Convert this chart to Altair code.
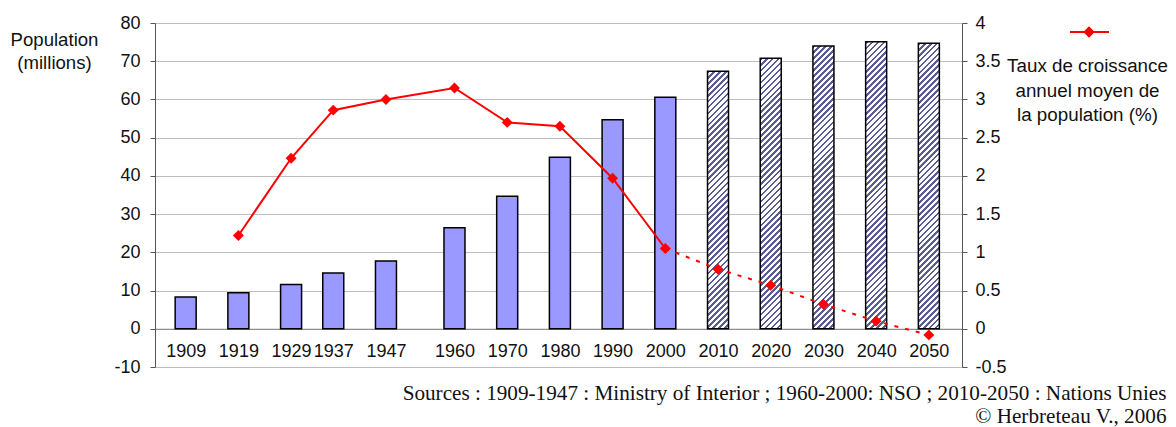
import altair as alt
import pandas as pd

# ---------------- data ----------------
years = [1909, 1919, 1929, 1937, 1947, 1960, 1970, 1980, 1990, 2000,
         2010, 2020, 2030, 2040, 2050]
population = [8.3, 9.4, 11.6, 14.6, 17.7, 26.4, 34.7, 44.9, 54.7, 60.6,
              67.4, 70.8, 74.0, 75.1, 74.7]
growth_years_obs = [1919, 1929, 1937, 1947, 1960, 1970, 1980, 1990, 2000]
growth_obs = [1.22, 2.23, 2.86, 3.00, 3.15, 2.70, 2.65, 1.97, 1.05]
growth_years_proj = [2000, 2010, 2020, 2030, 2040, 2050]
growth_proj = [1.05, 0.78, 0.57, 0.32, 0.10, -0.08]
left_ticks = [-10, 0, 10, 20, 30, 40, 50, 60, 70, 80]
right_ticks = [-0.5, 0, 0.5, 1, 1.5, 2, 2.5, 3, 3.5, 4]
legend_label = ["Taux de croissance", "annuel moyen de", "la population (%)"]
source_lines = [
    "Sources : 1909-1947 : Ministry of Interior ; 1960-2000: NSO ; 2010-2050 : Nations Unies",
    "\u00a9 Herbreteau V., 2006",
]
left_title = ["Population", "(millions)"]

# ---------------- layout ----------------
W, H = 807, 344
X_DOMAIN = [1904.13, 2055.34]
Y_LEFT = [-10, 80]
Y_RIGHT = [-0.5, 4]
BAR_W = 21
FONT = "Liberation Sans"
RED = "#FF0000"

n_obs = 10
pop_df = pd.DataFrame({"annee": years, "population": population})
obs_df = pop_df.iloc[:n_obs]
g_obs_df = pd.DataFrame({"annee": growth_years_obs, "croissance": growth_obs})
g_proj_df = pd.DataFrame({"annee": growth_years_proj, "croissance": growth_proj})
g_all_df = pd.concat([g_obs_df, g_proj_df.iloc[1:]], ignore_index=True)
one = pd.DataFrame({"k": [0]})

x_enc = alt.X(
    "annee:Q",
    scale=alt.Scale(domain=X_DOMAIN, nice=False, zero=False),
    axis=alt.Axis(
        values=years, format="d", grid=False, ticks=False, tickSize=0,
        labelFontSize=18, labelFont=FONT, labelColor="#111",
        labelPadding=23, labelBaseline="middle", labelFlush=False,
        labelOverlap=False, offset=-H * 10 / 90, domainColor="#808080",
        domainWidth=1, title=None,
    ),
)

y_left = alt.Y(
    "population:Q",
    scale=alt.Scale(domain=Y_LEFT, nice=False, zero=False),
    axis=alt.Axis(
        values=left_ticks, labelExpr="toString(datum.value)", grid=True,
        gridColor="#BFBFBF", gridWidth=1, domainColor="#555555",
        tickColor="#555555", tickSize=5, labelPadding=10, labelFontSize=18,
        labelFont=FONT, labelColor="#111", title=left_title, titleAngle=0,
        titleX=-101, titleY=22, titleAlign="center", titleBaseline="alphabetic",
        titleFontWeight="normal", titleFontSize=18.6, titleFont=FONT,
        titleColor="#111", titleLineHeight=23.5,
    ),
)

y_right = alt.Y(
    "croissance:Q",
    scale=alt.Scale(domain=Y_RIGHT, nice=False, zero=False),
    axis=alt.Axis(
        orient="right", values=right_ticks, labelExpr="toString(datum.value)",
        grid=False, domainColor="#555555", tickColor="#555555", tickSize=5,
        labelPadding=8, labelFontSize=18, labelFont=FONT, labelColor="#111",
        title=None,
    ),
)


def hatch(w, h, period=6.0, frac=0.45, ink="#5B5B95"):
    """Diagonal '/' stripes as a linear gradient in bounding-box units."""
    n = int((w + h) / period) + 1
    c = (w + h) / (w * w + h * h)
    stops = []
    for k in range(n):
        a, b, e = k / n, (k + frac) / n, (k + 1) / n
        stops += [
            {"offset": round(a, 5), "color": ink},
            {"offset": round(b, 5), "color": ink},
            {"offset": round(b, 5), "color": "#FFFFFF"},
            {"offset": round(e, 5), "color": "#FFFFFF"},
        ]
    return {"gradient": "linear", "x1": 0, "y1": 0,
            "x2": round(c * w, 5), "y2": round(c * h, 5), "stops": stops}


bars_obs = alt.Chart(obs_df).mark_bar(
    size=BAR_W, fill="#9999FF", stroke="#000000", strokeWidth=1.5
).encode(x=x_enc, y=y_left, y2=alt.datum(0))

proj_layers = []
for i in range(n_obs, len(years)):
    row = pop_df.iloc[i:i + 1]
    h_px = population[i] / (Y_LEFT[1] - Y_LEFT[0]) * H
    proj_layers.append(
        alt.Chart(row).mark_bar(
            size=BAR_W, fill=hatch(BAR_W, h_px), stroke="#000000", strokeWidth=1.5
        ).encode(x=x_enc, y=y_left, y2=alt.datum(0))
    )

left = alt.layer(bars_obs, *proj_layers)

line_obs = alt.Chart(g_obs_df).mark_line(color=RED, strokeWidth=2).encode(x=x_enc, y=y_right)
line_proj = alt.Chart(g_proj_df).mark_line(
    color=RED, strokeWidth=2, strokeDash=[4, 7]
).encode(x=x_enc, y=y_right)
pts = alt.Chart(g_all_df).mark_point(
    shape="diamond", filled=True, size=120, color=RED, opacity=1
).encode(x=x_enc, y=y_right)

# legend (symbol above the label)
leg_rule = alt.Chart(one).mark_rule(color=RED, strokeWidth=2).encode(
    x=alt.value(915), x2=alt.value(954), y=alt.value(9)
)
leg_pt = alt.Chart(one).mark_point(
    shape="diamond", filled=True, size=130, color=RED, opacity=1
).encode(x=alt.value(934), y=alt.value(9))
leg_txt = alt.Chart(one).mark_text(
    font=FONT, fontSize=18.8, align="center", baseline="alphabetic",
    lineHeight=24.5, color="#111"
).encode(x=alt.value(932.5), y=alt.value(49), text=alt.value(legend_label))

src_txt = alt.Chart(one).mark_text(
    font="Liberation Serif", fontSize=21.2, align="right", baseline="alphabetic",
    lineHeight=22.5, color="#111"
).encode(x=alt.value(1011.5), y=alt.value(377), text=alt.value(source_lines))

right = alt.layer(line_obs, line_proj, pts, leg_rule, leg_pt, leg_txt, src_txt)

chart = (
    alt.layer(left, right)
    .resolve_scale(y="independent")
    .properties(
        width=W, height=H,
        padding={"left": 147, "top": 15, "right": 206, "bottom": 60},
        autosize=alt.AutoSizeParams(type="none"),
    )
    .configure_view(stroke=None)
    .configure(font=FONT)
)

chart.save("out.html", embed_options={"renderer": "svg", "actions": False})
